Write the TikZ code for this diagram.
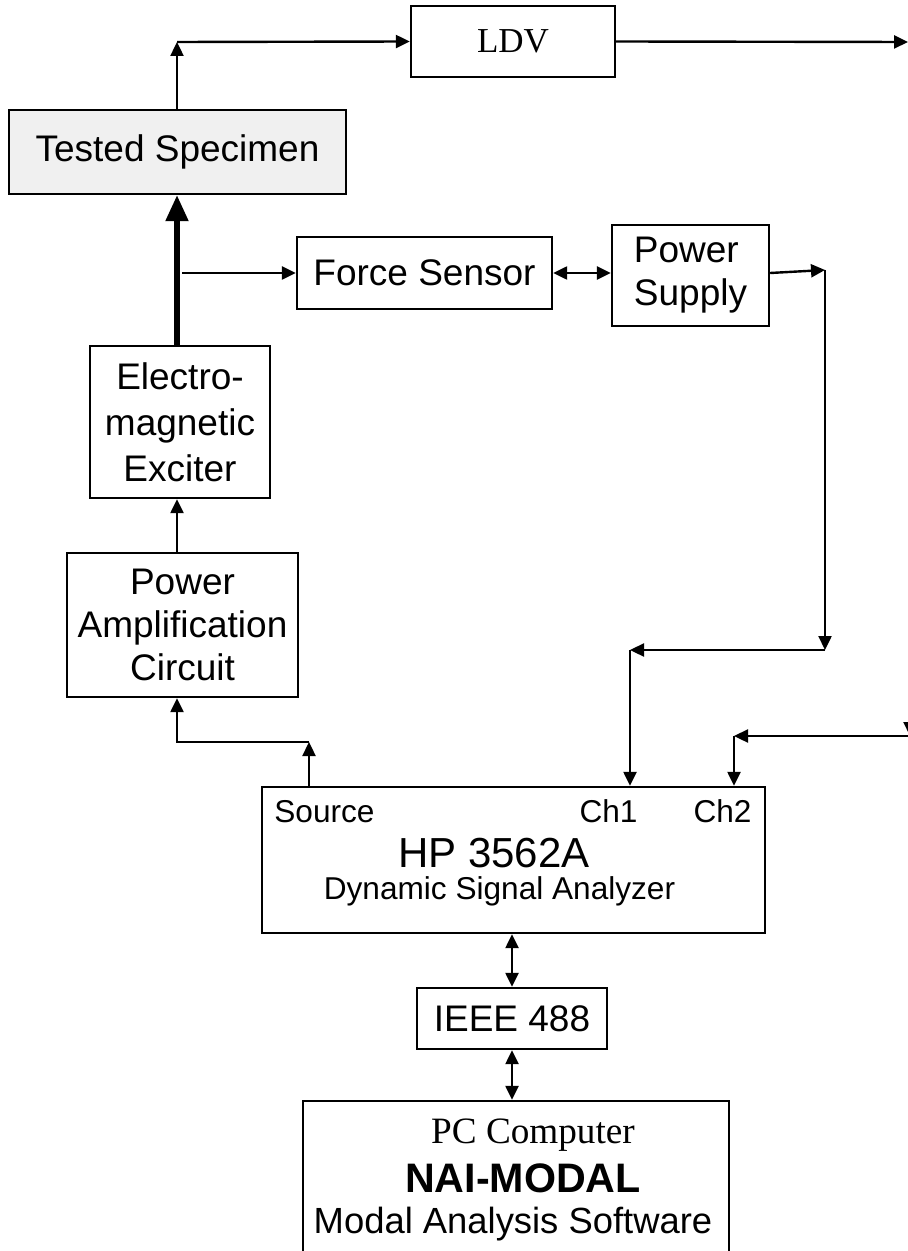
\documentclass[tikz,border=0pt]{standalone}
\usepackage{fontspec}
\setmainfont{Liberation Sans}
\newfontfamily\seriffont{Liberation Serif}
\usetikzlibrary{arrows.meta}

\begin{document}
\begin{tikzpicture}[x=0.5pt, y=-0.5pt,
  box/.style={draw, line width=1.2pt, inner sep=0pt, align=center, font=\fontsize{18.5}{21.5}\selectfont},
  lbl/.style={inner sep=0pt, anchor=base, font=\fontsize{15.8}{18}\selectfont},
  arr/.style={line width=1.2pt, -{Triangle[length=7pt, width=6.5pt]}},
  dblarr/.style={line width=1.2pt, {Triangle[length=7pt, width=6.5pt]}-{Triangle[length=7pt, width=6.5pt]}},
  thickarr/.style={line width=2.6pt, -{Triangle[length=13pt, width=11pt]}}]
\useasboundingbox (0,0) rectangle (908,1251);

% boxes
\node[box, fill=black!6, minimum width=168.5pt, minimum height=42pt] (spec) at (177.5,152) {Tested Specimen};
\node[box, font=\seriffont\fontsize{17.5}{20}\selectfont, minimum width=102pt, minimum height=35.5pt] (ldv) at (513,41.5) {LDV};
\node[box, minimum width=127.5pt, minimum height=36pt] (force) at (424.5,273) {Force Sensor};
\node[box, align=left, minimum width=78.5pt, minimum height=50.5pt] (supply) at (690.5,275.5) {Power\\Supply};
\node[box, font=\fontsize{18.5}{23}\selectfont, minimum width=90pt, minimum height=76pt] (exciter) at (180,422) {Electro-\\magnetic\\Exciter};
\node[box, minimum width=115.5pt, minimum height=72pt] (amp) at (182.5,625) {Power\\Amplification\\Circuit};
\node[box, minimum width=251.5pt, minimum height=73pt] (hp) at (513.5,860) {};
\node[box, minimum width=95pt, minimum height=30.5pt] (ieee) at (512,1018.5) {IEEE 488};
\node[box, minimum width=213pt, minimum height=100pt] (pc) at (516,1201) {};

% texts inside the analyzer and the computer
\node[lbl, anchor=base west] (source) at (274,822) {Source};
\node[lbl] (ch1) at (608.5,822) {Ch1};
\node[lbl] (ch2) at (722.5,822) {Ch2};
\node[lbl, font=\fontsize{21}{24}\selectfont] (hpname) at (494,867) {HP 3562A};
\node[lbl] (hpdesc) at (499.5,899) {Dynamic Signal Analyzer};
\node[lbl, font=\seriffont\fontsize{18.6}{20}\selectfont] (pcname) at (533,1143) {PC Computer};
\node[lbl, font=\bfseries\fontsize{20.6}{24}\selectfont] (nai) at (523,1192) {NAI-MODAL};
\node[lbl, font=\fontsize{18.2}{20}\selectfont] (naidesc) at (513,1233) {Modal Analysis Software};

% corners and free ends
\coordinate (up1) at (177,42);
\coordinate (ldvout) at (908,42);
\coordinate (tap) at (182,273);
\coordinate (s1) at (825,270);
\coordinate (s2) at (825,650);
\coordinate (s3) at (630,650);
\coordinate (v0) at (910,690);
\coordinate (v1) at (910,736);
\coordinate (c2) at (734,736);
\coordinate (src) at (309,742);
\coordinate (srcc) at (177,742);

% connectors
\draw[arr] (spec.north -| up1) -- (up1);
\draw[arr] (up1) -- (ldv.west);
\draw[arr] (ldv.east) -- (ldvout);
\draw[thickarr] (exciter.north -| up1) -- (spec.south -| up1);
\draw[arr] (tap) -- (force.west);
\draw[dblarr] (force.east) -- (force.east -| supply.west);
\draw[arr] (supply.east |- tap) -- (s1);
\draw[arr] (s1) -- (s2);
\draw[arr] (s2) -- (s3);
\draw[arr] (s3) -- (s3 |- hp.north);
\draw[arr] (v0) -- (v1);
\draw[arr] (v1) -- (c2);
\draw[arr] (c2) -- (c2 |- hp.north);
\draw[arr] (src |- hp.north) -- (src);
\draw[arr] (src) -- (srcc) -- (amp.south -| srcc);
\draw[arr] (amp.north -| srcc) -- (exciter.south -| srcc);
\draw[dblarr] (ieee.north |- hp.south) -- (ieee.north);
\draw[dblarr] (ieee.south) -- (ieee.south |- pc.north);
\end{tikzpicture}
\end{document}
